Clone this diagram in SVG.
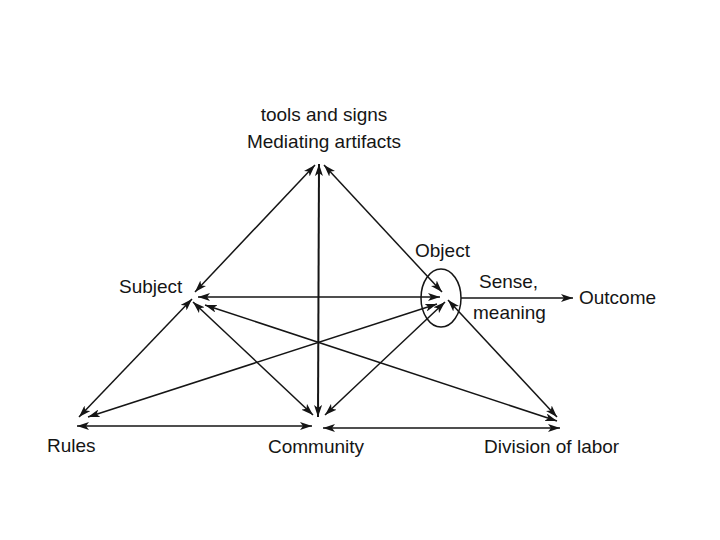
<svg xmlns="http://www.w3.org/2000/svg" width="720" height="540" viewBox="0 0 720 540">
<style>
text{font-family:"Liberation Sans",Arial,sans-serif;font-size:19px;fill:#151515}
.c line{stroke:#151515;stroke-width:1.5;fill:none}
.c .b{marker-start:url(#ah);marker-end:url(#ah)}
.c .e{marker-end:url(#ah)}
</style>
<defs>
<marker id="ah" viewBox="0 0 12 8" refX="12" refY="4" markerWidth="12" markerHeight="8" markerUnits="userSpaceOnUse" orient="auto-start-reverse">
<path d="M0,0 L12,4 L0,8 L3,4 Z" fill="#151515"/>
</marker>
</defs>
<rect width="720" height="540" fill="#fff"/>
<g class="c" id="connectors">
<line class="b" x1="315" y1="165" x2="195" y2="292"/>
<line class="b" x1="319" y1="164" x2="318" y2="417" style="stroke-width:2"/>
<line class="b" x1="324" y1="165" x2="442" y2="292"/>
<line class="b" x1="198" y1="297" x2="440" y2="297"/>
<line class="b" x1="192" y1="299" x2="79" y2="417"/>
<line class="b" x1="193" y1="302" x2="313" y2="415"/>
<line class="b" x1="205" y1="305" x2="557" y2="421"/>
<line class="b" x1="88" y1="417" x2="437" y2="304"/>
<line class="b" x1="325" y1="415" x2="445" y2="302"/>
<line class="b" x1="448" y1="300" x2="557" y2="417"/>
<line class="b" x1="77" y1="426" x2="312" y2="426"/>
<line class="b" x1="323" y1="428" x2="560" y2="428"/>
<line class="e" x1="461" y1="298" x2="573" y2="298"/>
</g>
<g id="mediating">
<text x="324" y="121" text-anchor="middle">tools and signs</text>
<text x="324" y="148" text-anchor="middle">Mediating artifacts</text>
</g>
<g id="subject"><text x="119" y="293">Subject</text></g>
<g id="object">
<ellipse cx="441" cy="298" rx="20" ry="29" fill="none" stroke="#151515" stroke-width="1.5"/>
<text x="415" y="257">Object</text>
</g>
<g id="sense">
<text x="479" y="288">Sense,</text>
<text x="473" y="319">meaning</text>
</g>
<g id="outcome"><text x="579" y="304">Outcome</text></g>
<g id="rules"><text x="47" y="452">Rules</text></g>
<g id="community"><text x="268" y="453">Community</text></g>
<g id="division"><text x="484" y="453">Division of labor</text></g>
</svg>
